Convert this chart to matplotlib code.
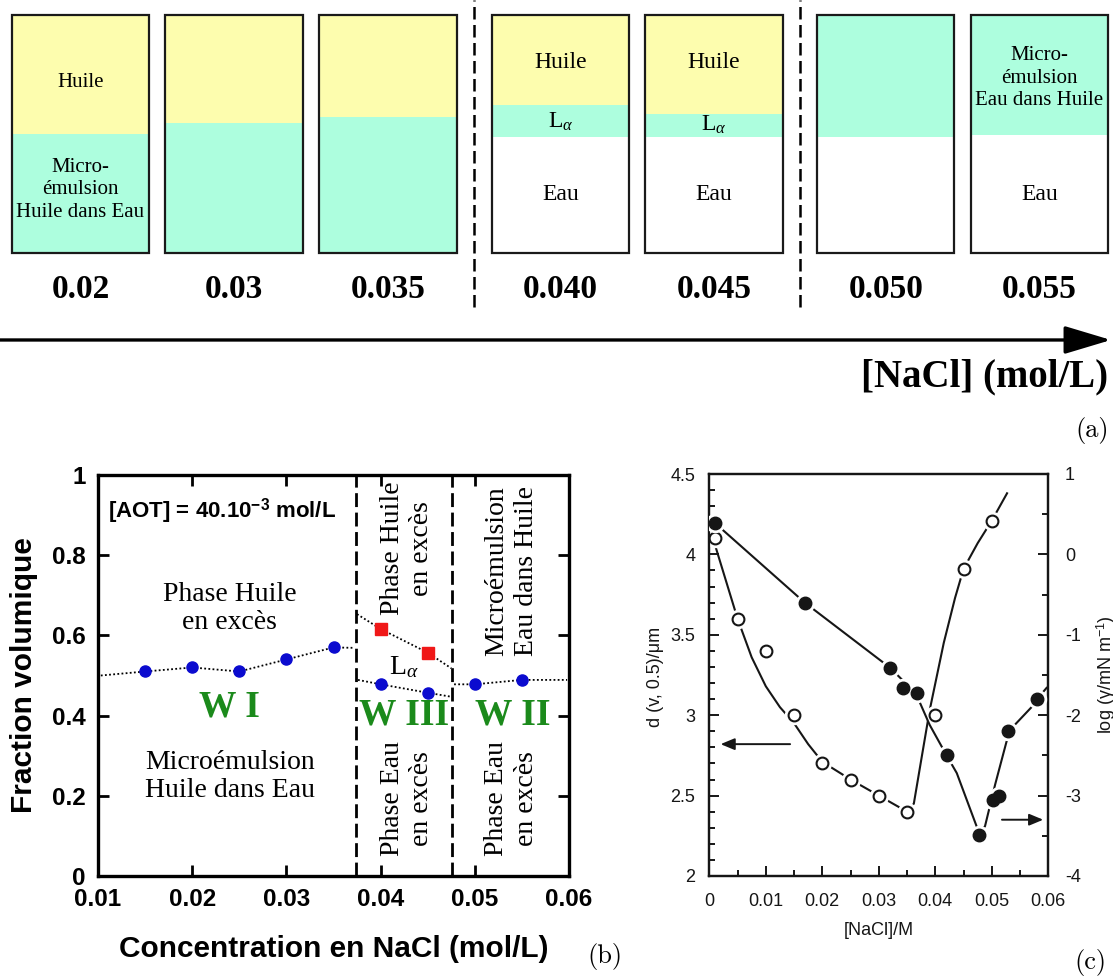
import numpy as np
import matplotlib
matplotlib.use("Agg")
import matplotlib.pyplot as plt
from matplotlib.ticker import MultipleLocator, FixedLocator, FixedFormatter

plt.rcParams['mathtext.fontset'] = 'custom'
plt.rcParams['mathtext.rm'] = 'Liberation Sans'
plt.rcParams['mathtext.it'] = 'Liberation Serif:italic'
plt.rcParams['mathtext.bf'] = 'Liberation Sans:bold'

##### data #####
# (a) tubes: volume fractions of each phase (bottom -> top)
tube_labels = ['0.02', '0.03', '0.035', '0.040', '0.045', '0.050', '0.055']
water_frac = [0.0, 0.0, 0.0, 0.487, 0.487, 0.487, 0.496]
micro_frac = [0.500, 0.546, 0.571, 0.134, 0.097, 0.513, 0.504]
oil_frac = [0.500, 0.454, 0.429, 0.378, 0.416, 0.0, 0.0]

# (b) volume fraction vs NaCl
wi_x = [0.015, 0.020, 0.025, 0.030, 0.035]
wi_y = [0.51, 0.52, 0.51, 0.54, 0.57]
wiii_x = [0.040, 0.045]
wiii_low = [0.478, 0.457]
wiii_high = [0.616, 0.557]
wii_x = [0.050, 0.055]
wii_y = [0.478, 0.489]
# dotted guides (with their ends at the frame / boundaries)
guide_wi_x = [0.0103, 0.015, 0.020, 0.025, 0.030, 0.035, 0.0371]
guide_wi_y = [0.500, 0.51, 0.52, 0.51, 0.54, 0.57, 0.569]
guide_high_x = [0.0375, 0.040, 0.045, 0.0475]
guide_high_y = [0.653, 0.616, 0.557, 0.518]
guide_low_x = [0.0376, 0.040, 0.045, 0.0475]
guide_low_y = [0.489, 0.478, 0.457, 0.447]
guide_wii_x = [0.0478, 0.050, 0.055, 0.0598]
guide_wii_y = [0.478, 0.478, 0.489, 0.489]
bound_x = [0.0374, 0.0476]

# (c) drop size (open, left axis) and log tension (filled, right axis)
open_x = [0.001, 0.005, 0.010, 0.015, 0.020, 0.025, 0.030, 0.035, 0.040, 0.045, 0.050]
open_y = [4.10, 3.60, 3.40, 3.00, 2.70, 2.60, 2.50, 2.40, 3.00, 3.91, 4.21]
open_fit_x = [0.001, 0.003, 0.005, 0.0075, 0.010, 0.0125, 0.015, 0.0175, 0.020, 0.025,
              0.030, 0.035, 0.0362, 0.0375, 0.039, 0.0415, 0.0435, 0.045, 0.0475,
              0.050, 0.0527]
open_fit_y = [4.06, 3.83, 3.60, 3.36, 3.18, 3.05, 2.95, 2.82, 2.71, 2.60,
              2.50, 2.40, 2.45, 2.72, 3.03, 3.45, 3.73, 3.91, 4.07,
              4.21, 4.38]
full_x = [0.001, 0.0169, 0.032, 0.0343, 0.0368, 0.042, 0.0477, 0.0503, 0.0512, 0.0529, 0.058]
full_y = [0.39, -0.60, -1.41, -1.66, -1.72, -2.50, -3.49, -3.06, -3.00, -2.20, -1.80]
full_fit_x = [0.001, 0.0169, 0.032, 0.035, 0.037, 0.039, 0.042, 0.0438, 0.0473, 0.0477,
              0.0488, 0.0497, 0.0506, 0.0526, 0.0538, 0.0573, 0.058, 0.0597]
full_fit_y = [0.39, -0.60, -1.41, -1.62, -1.80, -2.12, -2.50, -2.72, -3.38, -3.49,
              -3.38, -3.12, -2.86, -2.33, -2.14, -1.88, -1.80, -1.66]

##### layout #####
W, H = 1113, 980
fig = plt.figure(figsize=(W / 100, H / 100), dpi=100)

def fx(px):
    return px / W

def fy(py):
    return 1 - py / H

YELLOW = '#fdfdae'
CYAN = '#adfede'
BLUE = '#0b0bcf'
RED = '#f01818'
GREEN = '#1b8a1b'
SERIF = 'Liberation Serif'
SANS = 'Liberation Sans'

# --- (a) ---
ax_a = fig.add_axes([0, fy(420), 1, 420 / H])
ax_a.set_xlim(0, W)
ax_a.set_ylim(-0.7017, 1.063)
ax_a.axis('off')
tube_x = [80.5, 234.1, 388.0, 560.6, 714.0, 885.7, 1039.4]
tube_w = 137.5
water = np.array(water_frac)
micro = np.array(micro_frac)
oil = np.array(oil_frac)
ax_a.bar(tube_x, water, width=tube_w, color='white')
ax_a.bar(tube_x, micro, width=tube_w, bottom=water, color=CYAN)
ax_a.bar(tube_x, oil, width=tube_w, bottom=water + micro, color=YELLOW)
ax_a.bar(tube_x, water + micro + oil, width=tube_w, fill=False, edgecolor='#1a1a1a', lw=1.6)
for x, lab in zip(tube_x, tube_labels):
    ax_a.text(x, -0.1525, lab, ha='center', va='center', family=SERIF,
              weight='bold', size=24)
ax_a.vlines([474.3, 799.6], -0.227, 1.063, color='k', lw=1.8, linestyles=(0, (5, 2.2)))

tube_text = [
    (0, 0.718, 'Huile', 15), (0, 0.265, 'Micro-\némulsion\nHuile dans Eau', 15),
    (3, 0.80, 'Huile', 17), (4, 0.80, 'Huile', 17),
    (3, 0.553, r'L$_{\alpha}$', 17), (4, 0.538, r'L$_{\alpha}$', 17),
    (3, 0.244, 'Eau', 17), (4, 0.244, 'Eau', 17), (6, 0.244, 'Eau', 17),
    (6, 0.735, 'Micro-\némulsion\nEau dans Huile', 15),
]
for i, y, s, size in tube_text:
    ax_a.text(tube_x[i], y, s, ha='center', va='center', family=SERIF, size=size,
              linespacing=1.25)

ax_a.annotate('', xy=(1111, -0.3655), xytext=(0, -0.3655),
              arrowprops=dict(arrowstyle='-|>,head_length=0.4,head_width=0.12',
                              lw=2.4, color='k', mutation_scale=72, shrinkA=0, shrinkB=0))
ax_a.text(1108, -0.522, '[NaCl] (mol/L)', ha='right', va='center', family=SERIF,
          weight='bold', size=28)
fig.text(fx(1092), fy(430), '(a)', family='cmr10', size=19, ha='center', va='center')

# --- (b) ---
ax_b = fig.add_axes([fx(98), fy(876), 471 / W, 401 / H])
ax_b.set_xlim(0.01, 0.06)
ax_b.set_ylim(0, 1)
for gx, gy in [(guide_wi_x, guide_wi_y), (guide_high_x, guide_high_y),
               (guide_low_x, guide_low_y), (guide_wii_x, guide_wii_y)]:
    ax_b.plot(gx, gy, ls=(0, (1, 1.3)), color='k', lw=1.3, zorder=2)
ax_b.plot(wi_x, wi_y, 'o', color=BLUE, ms=8, zorder=3)
ax_b.plot(wiii_x, wiii_low, 'o', color=BLUE, ms=8, zorder=3)
ax_b.plot(wii_x, wii_y, 'o', color=BLUE, ms=8, zorder=3)
ax_b.plot(wiii_x, wiii_high, 's', color=RED, ms=8.5, zorder=3)
for bx in bound_x:
    ax_b.axvline(bx, color='k', lw=2, ls=(0, (5, 2)), zorder=1)

ax_b.set_xticks([0.01, 0.02, 0.03, 0.04, 0.05, 0.06])
ax_b.set_xticklabels(['0.01', '0.02', '0.03', '0.04', '0.05', '0.06'])
ax_b.set_yticks([0, 0.2, 0.4, 0.6, 0.8, 1])
ax_b.set_yticklabels(['0', '0.2', '0.4', '0.6', '0.8', '1'])
ax_b.tick_params(direction='in', length=8, width=2, top=True, right=True, pad=9)
for lab in ax_b.get_xticklabels() + ax_b.get_yticklabels():
    lab.set_family(SANS)
    lab.set_weight('bold')
    lab.set_size(17.5)
for sp in ax_b.spines.values():
    sp.set_linewidth(2.4)
ax_b.set_ylabel('Fraction volumique', family=SANS, weight='bold', size=21.5, labelpad=10)
ax_b.set_xlabel('Concentration en NaCl (mol/L)', family=SANS, weight='bold', size=21.5,
                labelpad=17)

ax_b.text(0.0111, 0.909, r'[AOT] = 40.10$^{\mathbf{-3}}$ mol/L', family=SANS, weight='bold',
          size=16, va='center', ha='left')
ax_b.text(0.024, 0.667, 'Phase Huile\nen excès', family=SERIF, size=20, ha='center', va='center')
ax_b.text(0.024, 0.248, 'Microémulsion\nHuile dans Eau', family=SERIF, size=20,
          ha='center', va='center')
ax_b.text(0.024, 0.422, 'W I', family=SERIF, weight='bold', size=27, color=GREEN,
          ha='center', va='center')
ax_b.text(0.0425, 0.402, 'W III', family=SERIF, weight='bold', size=27, color=GREEN,
          ha='center', va='center')
ax_b.text(0.054, 0.402, 'W II', family=SERIF, weight='bold', size=27, color=GREEN,
          ha='center', va='center')
ax_b.text(0.04246, 0.522, r'L$_{\alpha}$', family=SERIF, size=20, ha='center', va='center')
ax_b.text(0.0428, 0.817, 'Phase Huile\nen excès', family=SERIF, size=20, rotation=90,
          ha='center', va='center', linespacing=1.25)
ax_b.text(0.0428, 0.194, 'Phase Eau\nen excès', family=SERIF, size=20, rotation=90,
          ha='center', va='center', linespacing=1.25)
ax_b.text(0.0539, 0.761, 'Microémulsion\nEau dans Huile', family=SERIF, size=20, rotation=90,
          ha='center', va='center', linespacing=1.25)
ax_b.text(0.0539, 0.194, 'Phase Eau\nen excès', family=SERIF, size=20, rotation=90,
          ha='center', va='center', linespacing=1.25)
fig.text(fx(605), fy(956), '(b)', family='cmr10', size=19, ha='center', va='center')

# --- (c) ---
INK = '#161616'
ax_c = fig.add_axes([fx(709.3), fy(876), 339 / W, 402 / H])
ax_c2 = ax_c.twinx()
ax_c.set_xlim(0, 0.06)
ax_c.set_ylim(2, 4.5)
ax_c2.set_ylim(-4, 1)

ax_c.plot(open_fit_x, open_fit_y, color=INK, lw=1.5, zorder=2)
ax_c.plot(open_x, open_y, 'o', ms=13, color='white', zorder=3)
ax_c.plot(open_x, open_y, 'o', ms=8.5, mfc='white', mec=INK, mew=1.5, zorder=4)
ax_c2.plot(full_fit_x, full_fit_y, color=INK, lw=1.5, zorder=2)
ax_c2.plot(full_x, full_y, 'o', ms=13, color='white', zorder=3)
ax_c2.plot(full_x, full_y, 'o', ms=9, color=INK, zorder=4)

ax_c.annotate('', xy=(0.0020, 2.82), xytext=(0.0143, 2.82),
              arrowprops=dict(arrowstyle='-|>,head_length=0.6,head_width=0.25', lw=1.4,
                              color=INK, mutation_scale=14, shrinkA=0, shrinkB=0))
ax_c.annotate('', xy=(0.0591, 2.35), xytext=(0.0518, 2.35),
              arrowprops=dict(arrowstyle='-|>,head_length=0.6,head_width=0.25', lw=1.4,
                              color=INK, mutation_scale=14, shrinkA=0, shrinkB=0))

ax_c.xaxis.set_major_locator(FixedLocator([0, 0.01, 0.02, 0.03, 0.04, 0.05, 0.06]))
ax_c.xaxis.set_major_formatter(FixedFormatter(['0', '0.01', '0.02', '0.03', '0.04', '0.05', '0.06']))
ax_c.xaxis.set_minor_locator(MultipleLocator(0.005))
ax_c.yaxis.set_major_locator(FixedLocator([2, 2.5, 3, 3.5, 4, 4.5]))
ax_c.yaxis.set_major_formatter(FixedFormatter(['2', '2.5', '3', '3.5', '4', '4.5']))
ax_c.yaxis.set_minor_locator(MultipleLocator(0.1))
ax_c2.yaxis.set_major_locator(FixedLocator([-4, -3, -2, -1, 0, 1]))
ax_c2.yaxis.set_major_formatter(FixedFormatter(['-4', '-3', '-2', '-1', '0', '1']))
ax_c2.yaxis.set_minor_locator(MultipleLocator(0.5))
ax_c.tick_params(which='both', direction='in', colors=INK, width=1.4, top=False, right=False)
ax_c.tick_params(which='major', length=7, labelsize=13)
ax_c.tick_params(which='minor', length=4)
ax_c.tick_params(axis='x', pad=12)
ax_c.tick_params(axis='y', pad=10)
ax_c2.tick_params(which='both', direction='in', colors=INK, width=1.4)
ax_c2.tick_params(which='major', length=7, labelsize=13, pad=12)
ax_c2.tick_params(which='minor', length=4)
for lab in ax_c.get_xticklabels() + ax_c.get_yticklabels() + ax_c2.get_yticklabels():
    lab.set_family(SANS)
for a in (ax_c, ax_c2):
    for sp in a.spines.values():
        sp.set_linewidth(1.6)
        sp.set_color(INK)
ax_c.set_xlabel('[NaCl]/M', family=SANS, size=13, color=INK, labelpad=9)
fig.text(fx(1106), fy(675), r'log (γ/mN m$^{-1}$)', family=SANS, size=13, color=INK,
         rotation=90, ha='center', va='center')
fig.text(fx(655), fy(677), 'd (v, 0.5)/μm', family=SANS, size=13, color=INK,
         rotation=90, ha='center', va='center')
fig.text(fx(1090), fy(962), '(c)', family='cmr10', size=19, ha='center', va='center')

fig.savefig('out.png', dpi=100)
